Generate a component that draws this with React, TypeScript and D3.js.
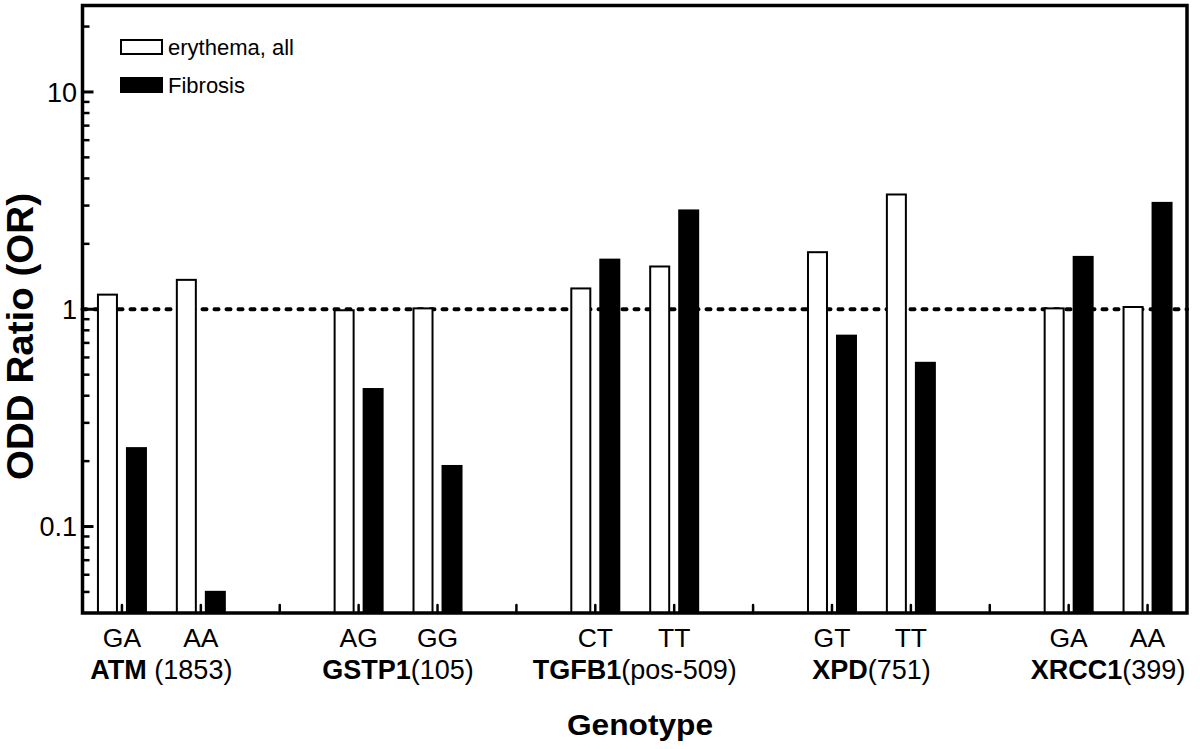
import React from "react";
import * as d3 from "d3";

// ---- data ----
const genes = ["ATM", "GSTP1", "TGFB1", "XPD", "XRCC1"];
const geneSuffix = [" (1853)", "(105)", "(pos-509)", "(751)", "(399)"];
const genotypes = ["GA", "AA", "AG", "GG", "CT", "TT", "GT", "TT", "GA", "AA"];
const genotypeGene = [0, 0, 1, 1, 2, 2, 3, 3, 4, 4];
const erythema = [1.18, 1.38, 1.0, 1.02, 1.26, 1.59, 1.85, 3.41, 1.02, 1.035];
const fibrosis = [0.232, 0.0506, 0.434, 0.192, 1.71, 2.88, 0.764, 0.573, 1.76, 3.12];
const seriesNames = ["erythema, all", "Fibrosis"];
const yMajorTicks = [0.1, 1, 10];
const yTickLabels = ["0.1", "1", "10"];
const yTitle = "ODD Ratio (OR)";
const xTitle = "Genotype";

const W = 1200;
const H = 749;
const FONT = "'Liberation Sans', Arial, Helvetica, sans-serif";

export default function App() {
  const left = 82.5, right = 1187, top = 5.5, bottom = 613;
  const slotsPerGene = 3;
  const nSlots = genes.length * slotsPerGene - 1;
  const x = d3.scaleLinear().domain([0.5, nSlots + 0.5]).range([left, right]);
  const y = d3.scaleLog().domain([0.04, 25]).range([bottom, top]);
  const inner = d3.scaleBand<string>().domain(seriesNames).range([-25, 25]).paddingInner(0.276);
  const bw = inner.bandwidth();

  const slotOf = (i: number) => genotypeGene[i] * slotsPerGene + (i % 2) + 1;
  const slotTicks = d3.range(1, nSlots + 1);
  const minorTicks = y.ticks().filter((t) => t > 0.041 && !yMajorTicks.some((m) => Math.abs(m - t) < 1e-9));

  return (
    <svg width={W} height={H} style={{ position: "absolute", left: 0, top: 0, background: "#fff" }} fontFamily={FONT}>
      <rect x={0} y={0} width={W} height={H} fill="#fff" />
      {/* reference line at OR = 1 */}
      <line x1={left} x2={right} y1={y(1)} y2={y(1)} stroke="#000" strokeWidth={4} strokeDasharray="4 8" strokeLinecap="round" />
      {/* bars */}
      {genotypes.map((g, i) => {
        const cx = x(slotOf(i));
        const x0 = cx + (inner(seriesNames[0]) as number);
        const x1 = cx + (inner(seriesNames[1]) as number);
        const ye = y(erythema[i]);
        const yf = y(fibrosis[i]);
        return (
          <g key={i}>
            <rect x={x0 + 1} y={ye + 1} width={bw - 2} height={bottom - ye - 1} fill="#fff" stroke="#000" strokeWidth={2} />
            <rect x={x1} y={yf} width={bw} height={bottom - yf} fill="#000" />
          </g>
        );
      })}
      {/* x ticks (inward) */}
      {slotTicks.map((s) => (
        <line key={s} x1={x(s)} x2={x(s)} y1={bottom} y2={bottom - 8} stroke="#000" strokeWidth={2.5} strokeLinecap="round" />
      ))}
      {/* y ticks (inward) */}
      {minorTicks.map((t, i) => (
        <line key={"m" + i} x1={left} x2={left + 7} y1={y(t)} y2={y(t)} stroke="#000" strokeWidth={2.5} />
      ))}
      {yMajorTicks.map((t, i) => (
        <line key={"M" + i} x1={left} x2={left + 11} y1={y(t)} y2={y(t)} stroke="#000" strokeWidth={3} />
      ))}
      {yMajorTicks.map((t, i) => (
        <text key={"L" + i} x={77} y={y(t)} dy="0.36em" textAnchor="end" fontSize={27}>
          {yTickLabels[i]}
        </text>
      ))}
      {/* frame */}
      <rect x={left} y={top} width={right - left} height={bottom - top} fill="none" stroke="#000" strokeWidth={3.5} />
      {/* genotype labels */}
      {genotypes.map((g, i) => (
        <text key={"g" + i} x={x(slotOf(i))} y={647} textAnchor="middle" fontSize={26.5}>
          {g}
        </text>
      ))}
      {/* gene labels */}
      {genes.map((gn, k) => {
        const cx = (x(k * slotsPerGene + 1) + x(k * slotsPerGene + 2)) / 2;
        return (
          <text key={"gn" + k} x={cx} y={679} textAnchor="middle" fontSize={27}>
            <tspan fontWeight="bold">{gn}</tspan>
            <tspan>{geneSuffix[k]}</tspan>
          </text>
        );
      })}
      {/* axis titles */}
      <text x={640} y={735} textAnchor="middle" fontSize={30} fontWeight="bold" textLength={146} lengthAdjust="spacingAndGlyphs">
        {xTitle}
      </text>
      <text transform={`translate(33,${336.5}) rotate(-90)`} textAnchor="middle" fontSize={36} fontWeight="bold" textLength={287} lengthAdjust="spacingAndGlyphs">
        {yTitle}
      </text>
      {/* legend */}
      <rect x={121} y={40} width={41} height={14} fill="#fff" stroke="#000" strokeWidth={2} />
      <text x={168} y={55} fontSize={22}>{seriesNames[0]}</text>
      <rect x={120} y={77} width={43} height={16} fill="#000" />
      <text x={168} y={93} fontSize={22}>{seriesNames[1]}</text>
    </svg>
  );
}
